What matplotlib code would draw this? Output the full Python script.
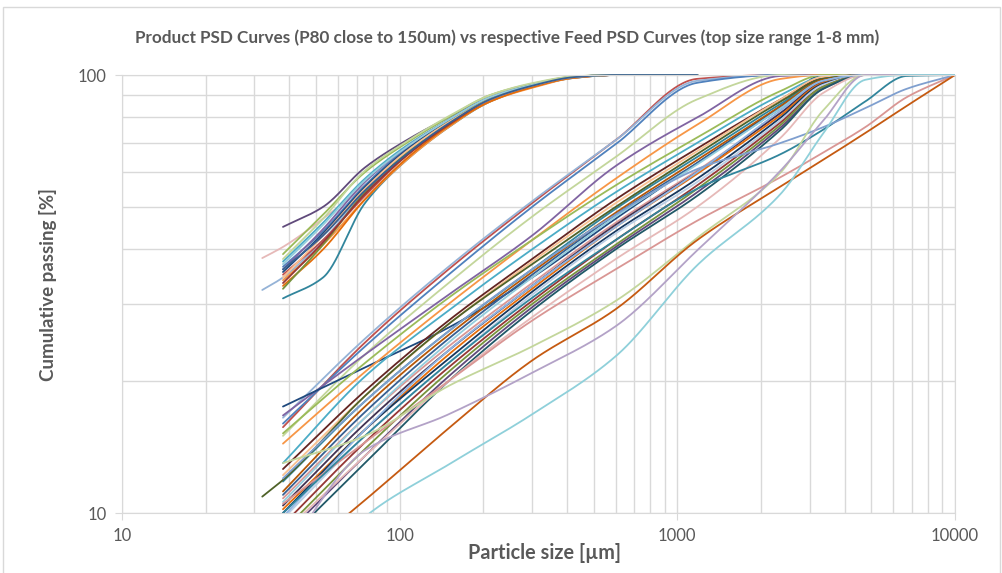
import numpy as np
import matplotlib
matplotlib.use('Agg')
import matplotlib.pyplot as plt
from matplotlib.patches import Rectangle
from matplotlib.ticker import LogLocator, NullFormatter, FixedLocator, FixedFormatter

plt.rcParams['font.family'] = ['Lato', 'DejaVu Sans']

nan = np.nan

# ---- product curves (sizes in um, cumulative passing %) ----
prod_sizes = [32, 38, 53, 75, 106, 150, 212, 300, 425, 600, 1180]
prod_colors = ['#604A7B', '#E6B9B8', '#95B3D7', '#31859C', '#9BBB59', '#4BACC6',
               '#4F81BD', '#C0504D', '#F79646', '#8064A2', '#1F497D', '#E46C0A',
               '#77933C', '#953735', '#FAC090', '#93CDDD', '#C3D69B', '#376092']
prod_values = [
    [nan, 45.0, 50.0, 61.5, 71.0, 80.0, 89.0, 95.0, 99.0, 100, 100],
    [38.2, 40.5, 47.0, 56.0, 67.0, 78.0, 88.0, 94.5, 98.8, 100, 100],
    [32.3, 34.5, 42.0, 54.0, 66.0, 77.0, 87.5, 94.0, 98.5, 100, 100],
    [nan, 30.9, 34.5, 51.0, 64.0, 76.0, 87.0, 94.0, 98.5, 100, 100],
    [nan, 39.0, 48.0, 60.0, 70.0, 80.0, 90.0, 95.5, 99.2, 100, 100],
    [nan, 37.5, 46.0, 58.0, 69.0, 79.0, 89.0, 95.0, 99.0, 100, 100],
    [nan, 36.5, 44.0, 56.0, 68.0, 78.0, 88.5, 94.8, 99.0, 100, 100],
    [nan, 35.0, 42.0, 53.0, 65.5, 77.0, 87.5, 94.0, 98.6, 100, 100],
    [nan, 34.0, 41.0, 52.0, 64.0, 76.0, 87.0, 93.5, 98.5, 100, 100],
    [nan, 36.0, 44.5, 57.0, 68.5, 79.0, 89.0, 95.2, 99.1, 100, 100],
    [nan, 35.5, 43.5, 55.5, 67.5, 78.5, 88.5, 95.0, 99.0, 100, 100],
    [nan, 33.0, 40.0, 52.0, 64.5, 76.5, 87.0, 93.8, 98.6, 100, 100],
    [nan, 32.5, 41.0, 54.0, 66.5, 78.0, 88.5, 94.8, 99.0, 100, 100],
    [nan, 33.5, 41.5, 53.5, 65.5, 77.0, 88.0, 94.5, 98.9, 100, 100],
    [nan, 34.5, 43.0, 55.0, 67.0, 78.0, 88.0, 94.5, 98.9, 100, 100],
    [nan, 37.0, 45.5, 57.5, 68.5, 79.0, 89.0, 95.0, 99.1, 100, 100],
    [nan, 38.0, 47.0, 60.5, 70.5, 80.5, 90.0, 95.8, 99.3, 100, 100],
    [nan, 36.0, 43.0, 54.5, 66.0, 77.5, 88.0, 94.5, 98.9, 100, 100],
]

# ---- feed curves ----
feed_sizes = [32, 38, 75, 150, 300, 600, 1180, 2360, 3350, 4750, 6700, 10000]
feed_colors = ['#C0504D', '#95B3D7', '#4F81BD', '#C3D69B', '#8064A2', '#1F497D',
               '#F79646', '#9BBB59', '#4BACC6', '#632523', '#FAC090', '#31859C',
               '#4F6228', '#B65708', '#376092', '#D99694', '#93CDDD', '#403152',
               '#E46C0A', '#17375E', '#B9CDE5', '#953735', '#77933C', '#5F497A',
               '#215968', '#E6B9B8', '#8EB4E3', '#D99694', '#31859C', '#7F9FCF',
               '#C3D69B', '#C55A11', '#B3A2C7', '#8FD0DA']
feed_values = [
    [nan, 15.7, 24.5, 36.0, 51.0, 71.0, 98.0, 100, 100, 100, 100, 100],
    [nan, 16.5, 25.0, 36.5, 51.5, 71.0, 97.0, 100, 100, 100, 100, 100],
    [nan, 16.0, 24.0, 35.0, 50.0, 69.5, 96.0, 100, 100, 100, 100, 100],
    [nan, 15.0, 23.0, 33.5, 47.5, 65.0, 88.0, 100, 100, 100, 100, 100],
    [nan, 16.7, 23.0, 31.5, 43.0, 62.0, 80.0, 99.5, 100, 100, 100, 100],
    [nan, 17.5, 21.5, 26.5, 34.5, 47.0, 63.0, 85.0, 100, 100, 100, 100],
    [nan, 14.4, 21.0, 30.0, 42.0, 58.0, 77.0, 98.0, 100, 100, 100, 100],
    [nan, 15.2, 22.0, 31.0, 42.0, 56.0, 72.0, 92.0, 100, 100, 100, 100],
    [nan, 13.0, 20.5, 29.0, 40.0, 54.0, 70.0, 90.0, 99.0, 100, 100, 100],
    [nan, 12.6, 19.0, 27.5, 38.0, 52.0, 68.0, 88.0, 98.5, 100, 100, 100],
    [nan, 12.2, 18.5, 27.0, 37.5, 51.0, 67.0, 88.0, 99.0, 100, 100, 100],
    [nan, 11.8, 18.0, 26.0, 36.0, 49.5, 65.0, 86.0, 98.0, 100, 100, 100],
    [10.9, 11.9, 18.5, 27.0, 37.0, 50.0, 66.0, 87.0, 98.0, 100, 100, 100],
    [nan, 11.2, 17.5, 25.5, 35.5, 48.5, 64.0, 85.0, 97.5, 100, 100, 100],
    [nan, 11.0, 17.0, 25.0, 35.0, 48.0, 63.0, 84.0, 97.0, 100, 100, 100],
    [nan, 10.8, 16.5, 24.0, 33.5, 46.0, 60.5, 82.0, 96.0, 100, 100, 100],
    [nan, 10.6, 16.5, 24.5, 34.5, 47.5, 62.5, 84.0, 97.0, 100, 100, 100],
    [nan, 10.4, 16.0, 23.5, 33.0, 45.5, 60.0, 82.0, 96.5, 100, 100, 100],
    [nan, 10.2, 15.5, 23.0, 32.5, 45.0, 59.5, 81.0, 96.0, 100, 100, 100],
    [nan, 10.0, 15.5, 22.5, 32.0, 44.0, 58.0, 80.0, 95.5, 100, 100, 100],
    [nan, 9.7, 15.0, 22.0, 31.5, 43.5, 57.0, 79.0, 95.0, 100, 100, 100],
    [nan, 9.4, 14.5, 21.5, 30.5, 42.0, 56.0, 78.0, 94.0, 100, 100, 100],
    [nan, 9.1, 14.0, 21.0, 30.0, 41.0, 55.0, 77.0, 94.0, 100, 100, 100],
    [nan, 8.8, 13.5, 20.5, 29.5, 40.5, 54.0, 76.0, 93.0, 100, 100, 100],
    [nan, 8.5, 13.0, 20.0, 29.0, 40.0, 53.0, 75.0, 93.0, 100, 100, 100],
    [nan, 9.0, 13.5, 20.0, 28.0, 38.0, 50.0, 72.0, 91.0, 100, 100, 100],
    [nan, 9.8, 15.5, 23.5, 33.0, 45.0, 60.0, 83.0, 97.0, 100, 100, 100],
    [nan, 10.5, 14.5, 20.0, 27.5, 36.0, 46.5, 58.5, 66.5, 76.0, 89.0, 100],
    [nan, 10.0, 15.0, 22.0, 31.0, 42.0, 55.0, 66.0, 75.0, 87.0, 99.5, 100],
    [nan, 12.0, 18.0, 26.0, 36.0, 48.0, 61.0, 70.0, 76.0, 84.0, 93.0, 100],
    [nan, 13.0, 15.0, 19.5, 24.0, 30.5, 42.5, 60.0, 83.0, 100, 100, 100],
    [nan, 7.5, 10.7, 15.6, 22.3, 29.2, 42.0, 55.7, 64.0, 73.7, 85.0, 100],
    [nan, 8.0, 13.9, 16.8, 20.9, 26.7, 39.8, 60.6, 78.6, 100, 100, 100],
    [nan, 6.0, 9.8, 12.9, 16.8, 22.8, 36.8, 53.6, 73.5, 97.5, 100, 100],
]


def pchip(xs, ys, xn):
    # monotone cubic, used only to draw smooth lines like excel does
    h = np.diff(xs)
    d = np.diff(ys) / h
    n = len(xs)
    m = np.zeros(n)
    m[0], m[-1] = d[0], d[-1]
    for k in range(1, n - 1):
        if d[k - 1] * d[k] <= 0:
            m[k] = 0
        else:
            w1 = 2 * h[k] + h[k - 1]
            w2 = h[k] + 2 * h[k - 1]
            m[k] = (w1 + w2) / (w1 / d[k - 1] + w2 / d[k])
    idx = np.clip(np.searchsorted(xs, xn) - 1, 0, n - 2)
    t = (xn - xs[idx]) / h[idx]
    h00 = 2 * t**3 - 3 * t**2 + 1
    h10 = t**3 - 2 * t**2 + t
    h01 = -2 * t**3 + 3 * t**2
    h11 = t**3 - t**2
    return h00 * ys[idx] + h10 * h[idx] * m[idx] + h01 * ys[idx + 1] + h11 * h[idx] * m[idx + 1]


def draw_curve(ax, sizes, vals, color):
    s = np.array(sizes, float)
    v = np.array(vals, float)
    ok = ~np.isnan(v)
    lx, ly = np.log10(s[ok]), np.log10(v[ok])
    xn = np.linspace(lx[0], lx[-1], 300)
    yn = pchip(lx, ly, xn)
    ln, = ax.plot(10**xn, 10**yn, color=color, lw=1.3, solid_capstyle='round')
    # let the 100% line show fully above the plot edge, but cut below 10
    ln.set_clip_path(Rectangle((0, 0), 1.0, 1.03, transform=ax.transAxes))


fig = plt.figure(figsize=(10.03, 5.73), dpi=100)
ax = fig.add_axes([122/1003, 1-513/573, (955-122)/1003, (513-75)/573])

for vals, c in zip(feed_values, feed_colors):
    draw_curve(ax, feed_sizes, vals, c)
for vals, c in zip(prod_values, prod_colors):
    draw_curve(ax, prod_sizes, vals, c)

ax.set_xscale('log')
ax.set_yscale('log')
ax.set_xlim(10, 10000)
ax.set_ylim(10, 100)

grid_c = '#D9D9D9'
ax.xaxis.set_major_locator(FixedLocator([10, 100, 1000, 10000]))
ax.xaxis.set_major_formatter(FixedFormatter(['10', '100', '1000', '10000']))
ax.xaxis.set_minor_locator(LogLocator(base=10, subs=np.arange(2, 10)))
ax.xaxis.set_minor_formatter(NullFormatter())
ax.yaxis.set_major_locator(FixedLocator([10, 100]))
ax.yaxis.set_major_formatter(FixedFormatter(['10', '100']))
ax.yaxis.set_minor_locator(LogLocator(base=10, subs=np.arange(2, 10)))
ax.yaxis.set_minor_formatter(NullFormatter())
ax.grid(True, which='both', color=grid_c, lw=1.0)
ax.set_axisbelow(True)
ax.tick_params(which='major', length=5, color=grid_c, labelsize=12, labelcolor='#595959', pad=6)
ax.tick_params(which='minor', length=0)
for sp in ax.spines.values():
    sp.set_color(grid_c)

fig.text(0.506, 0.935, 'Product PSD Curves (P80 close to 150um) vs respective Feed PSD Curves (top size range 1-8 mm)',
         ha='center', va='center', fontsize=12.3, fontweight='bold', color='#595959')
fig.text(545/1003, 1-553/573, 'Particle size [µm]', ha='center', va='center',
         fontsize=14.3, fontweight='bold', color='#595959')
fig.text(48/1003, 1-285/573, 'Cumulative passing [%]', ha='center', va='center', rotation=90,
         fontsize=13.5, fontweight='bold', color='#595959')

fig.patches.append(Rectangle((0.003, -0.01), 0.994, 0.998, transform=fig.transFigure,
                             fill=False, edgecolor=grid_c, lw=1.0))

fig.savefig('out.png', dpi=100)
